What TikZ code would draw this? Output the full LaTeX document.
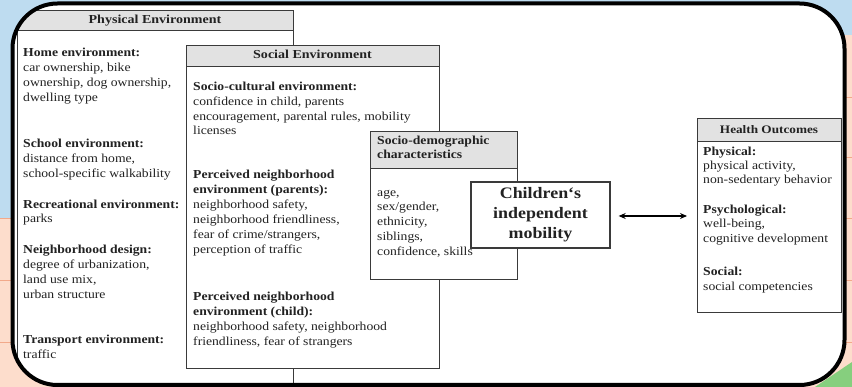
\documentclass[tikz,border=0pt]{standalone}
\usepackage{fontspec}
\setmainfont[FakeStretch=1.12]{Liberation Serif}
\newfontfamily\hdfont[FakeStretch=1.15]{Liberation Serif}
\usetikzlibrary{arrows.meta}
\definecolor{bgblue}{HTML}{BEDCF0}
\definecolor{bgpeach}{HTML}{FDDDCC}
\definecolor{bgline}{HTML}{F2A98A}
\definecolor{bggreen}{HTML}{86CF7E}
\definecolor{hdrgray}{HTML}{E2E2E2}
\definecolor{boxline}{HTML}{3A3A3A}
\definecolor{txtcol}{HTML}{222222}
\tikzset{
  box/.style={draw=boxline, line width=0.9pt, fill=white, inner sep=0pt, anchor=north west},
  hdr/.style={box, fill=hdrgray},
  txt/.style={anchor=base west, inner sep=0pt, text=txtcol, font=\fontsize{12.2}{14}\selectfont},
  btxt/.style={txt, font=\fontsize{12.2}{14}\selectfont\bfseries},
  htxt/.style={anchor=base, inner sep=0pt, text=txtcol, font=\hdfont\fontsize{12.2}{14}\selectfont\bfseries},
}
\begin{document}
\begin{tikzpicture}[x=1pt,y=-1pt]
\useasboundingbox (0,0) rectangle (852,387);
% background outside frame
\fill[bgpeach] (0,0) rectangle (852,387);
\fill[bgblue] (0,0) rectangle (852,35);
\fill[bgblue] (0,0) rectangle (60,218);
\draw[bgline, line width=0.8pt] (0,218) -- (60,218) (0,280) -- (60,280) (0,342) -- (60,342);
\draw[bgline, line width=0.8pt] (790,97) -- (852,97) (790,157) -- (852,157) (790,218) -- (852,218) (790,280) -- (852,280) (790,342) -- (852,342);
\fill[bggreen] (815,387) -- (852,362) -- (852,387) -- cycle;
% frame interior
\fill[white, rounded corners=45pt] (12.5,3.5) rectangle (844.5,385);
\begin{scope}
\clip[rounded corners=45pt] (12.5,3.5) rectangle (844.5,385);
% Physical environment
\node[box, minimum width=276pt, minimum height=373pt] (phys) at (17,10) {};
\node[hdr, minimum width=276pt, minimum height=20pt] (physh) at (17,10) {};
\node[htxt] (physht) at (155,24) {Physical Environment};
\node[btxt] (p1) at (23,57) {Home environment:};
\node[txt] (p2) at (23,72) {car ownership, bike};
\node[txt] (p3) at (23,87) {ownership, dog ownership,};
\node[txt] (p4) at (23,102) {dwelling type};
\node[btxt] (p5) at (23,148) {School environment:};
\node[txt] (p6) at (23,163) {distance from home,};
\node[txt] (p7) at (23,178) {school-specific walkability};
\node[btxt] (p8) at (23,209) {Recreational environment:};
\node[txt] (p9) at (23,223) {parks};
\node[btxt] (p10) at (23,254) {Neighborhood design:};
\node[txt] (p11) at (23,269) {degree of urbanization,};
\node[txt] (p12) at (23,284) {land use mix,};
\node[txt] (p13) at (23,299) {urban structure};
\node[btxt] (p14) at (23,344) {Transport environment:};
\node[txt] (p15) at (23,359) {traffic};
% Social environment
\node[box, minimum width=253pt, minimum height=323pt] (soc) at (186,45) {};
\node[hdr, minimum width=253pt, minimum height=21pt] (soch) at (186,45) {};
\node[htxt] (socht) at (312.5,59) {Social Environment};
\node[btxt] (s1) at (193,91) {Socio-cultural environment:};
\node[txt] (s2) at (193,106) {confidence in child, parents};
\node[txt] (s3) at (193,121) {encouragement, parental rules, mobility};
\node[txt] (s4) at (193,135) {licenses};
\node[btxt] (s5) at (193,179) {Perceived neighborhood};
\node[btxt] (s6) at (193,194) {environment (parents):};
\node[txt] (s7) at (193,209) {neighborhood safety,};
\node[txt] (s8) at (193,224) {neighborhood friendliness,};
\node[txt] (s9) at (193,239) {fear of crime/strangers,};
\node[txt] (s10) at (193,254) {perception of traffic};
\node[btxt] (s11) at (193,301) {Perceived neighborhood};
\node[btxt] (s12) at (193,316) {environment (child):};
\node[txt] (s13) at (193,331) {neighborhood safety, neighborhood};
\node[txt] (s14) at (193,346) {friendliness, fear of strangers};
% Socio-demographic
\node[box, minimum width=147pt, minimum height=148pt] (sd) at (370,131) {};
\node[hdr, minimum width=147pt, minimum height=37pt] (sdh) at (370,131) {};
\node[btxt] (d0) at (377,145) {Socio-demographic};
\node[btxt] (d00) at (377,159) {characteristics};
\node[txt] (d1) at (377,197) {age,};
\node[txt] (d2) at (377,211) {sex/gender,};
\node[txt] (d3) at (377,226) {ethnicity,};
\node[txt] (d4) at (377,241) {siblings,};
\node[txt] (d5) at (377,256) {confidence, skills};
% Children's independent mobility
\node[draw=boxline, line width=1.3pt, fill=white, minimum width=139pt, minimum height=66pt, inner sep=0pt,
  align=center, text=txtcol, font=\fontsize{16}{20}\selectfont\bfseries] (cim) at (540.5,215) {Children‘s\\independent\\mobility};
% Health outcomes
\node[box, minimum width=144pt, minimum height=194pt] (health) at (697,118) {};
\node[hdr, minimum width=144pt, minimum height=23pt] (healthh) at (697,118) {};
\node[htxt, font=\hdfont\fontsize{11.5}{12}\selectfont\bfseries] (hht) at (769,133.5) {Health Outcomes};
\node[btxt] (h1) at (703,156) {Physical:};
\node[txt] (h2) at (703,169.5) {physical activity,};
\node[txt] (h3) at (703,184) {non-sedentary behavior};
\node[btxt] (h4) at (703,214) {Psychological:};
\node[txt] (h5) at (703,228) {well-being,};
\node[txt] (h6) at (703,243) {cognitive development};
\node[btxt] (h7) at (703,276) {Social:};
\node[txt] (h8) at (703,291) {social competencies};
% arrow
\draw[{Stealth[length=7pt,width=6pt]}-{Stealth[length=7pt,width=6pt]}, line width=1.6pt]
  ([yshift=-1pt]cim.east) ++(8,0) coordinate (aL) -- ([xshift=-10pt]health.west |- aL) coordinate (aR);
\end{scope}
% frame
\draw[black, line width=4pt, rounded corners=45pt] (12.5,3.5) rectangle (844.5,385);
\end{tikzpicture}
\end{document}
